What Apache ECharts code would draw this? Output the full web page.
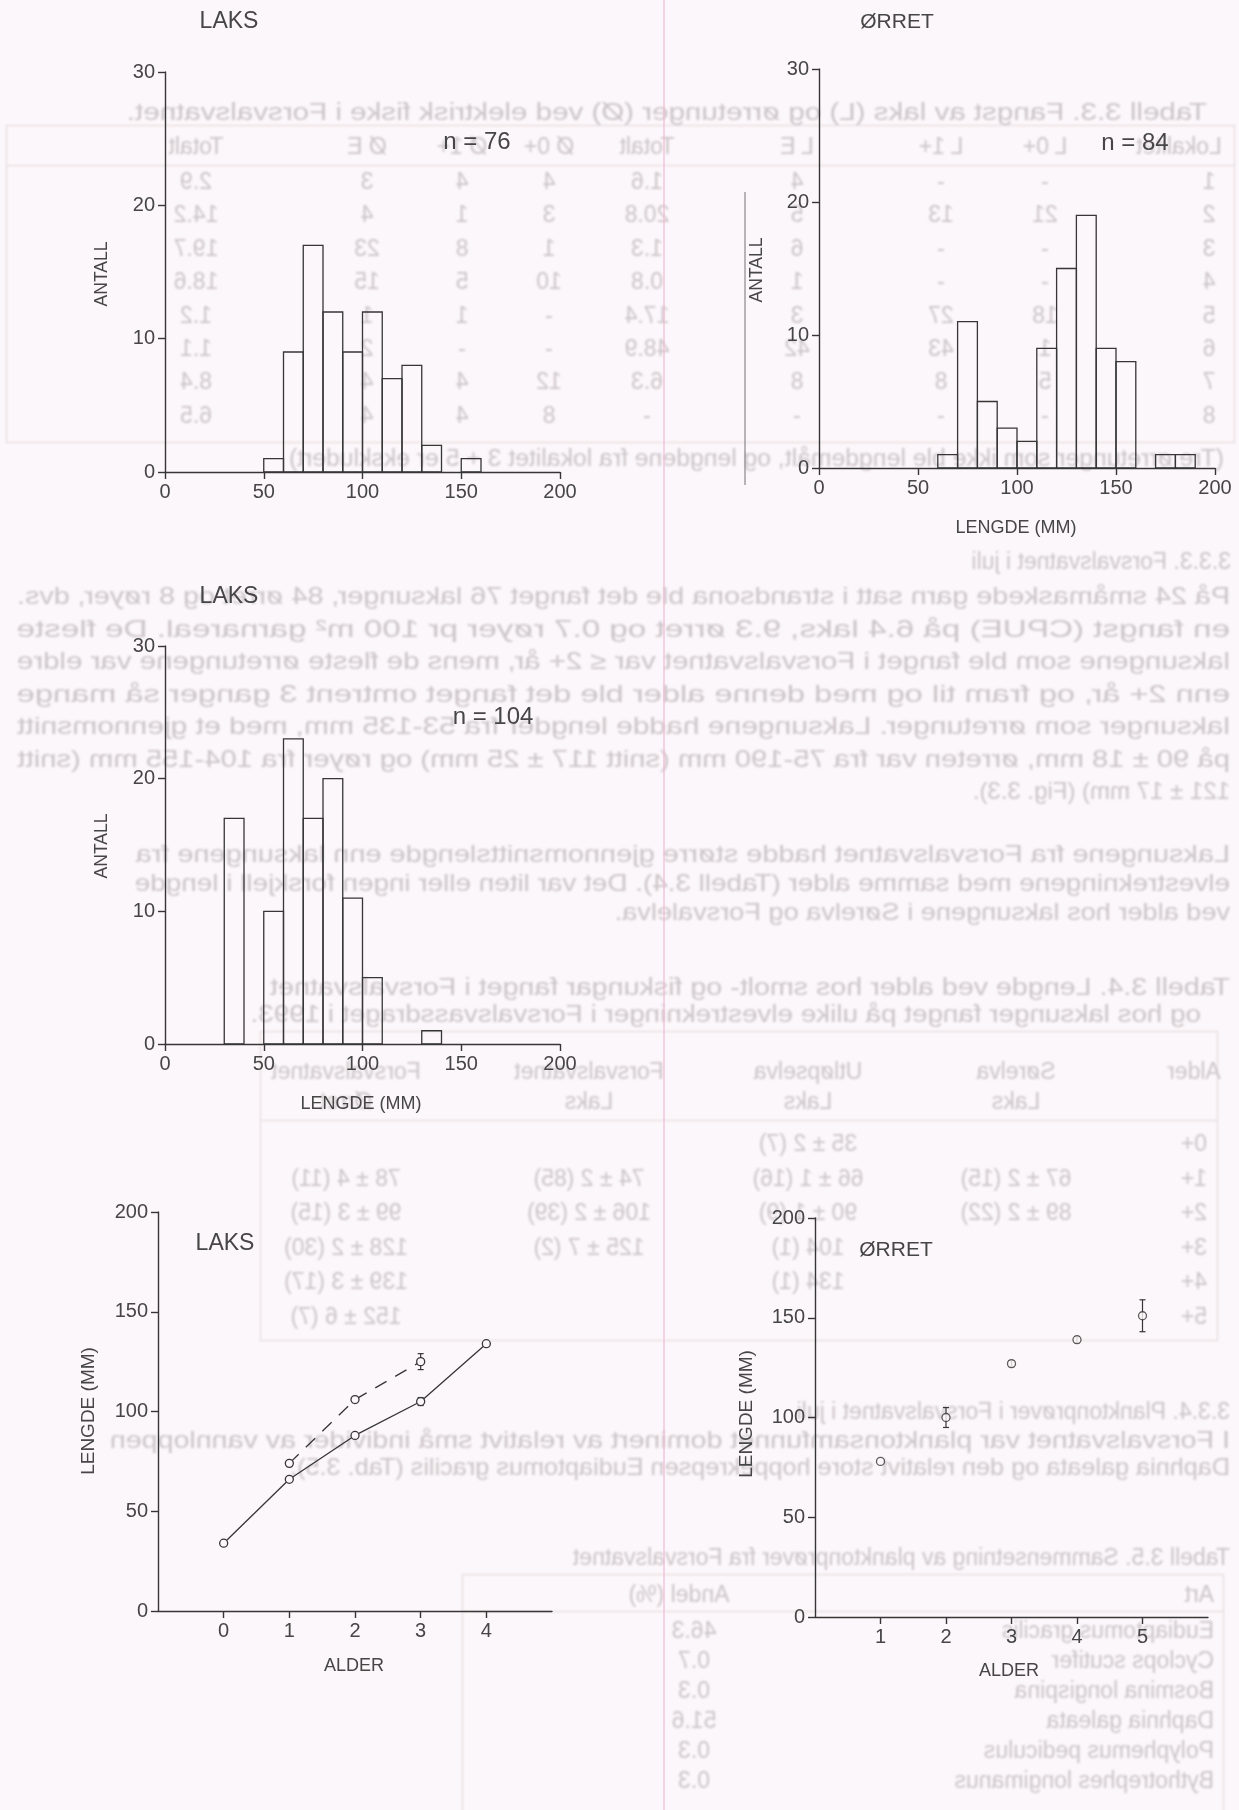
<!DOCTYPE html>
<html>
<head>
<meta charset="utf-8">
<script src="https://cdn.jsdelivr.net/npm/echarts@6/dist/echarts.min.js"></script>
<style>
  html, body { margin: 0; padding: 0; background: #fcf7fa; }
  #page { position: relative; width: 1239px; height: 1810px; overflow: hidden; }
  #ghost { position: absolute; left: 0; top: 0; width: 1239px; height: 1810px;
           transform: scaleX(-1); filter: blur(0.9px); color: #cbc4c8;
           font-family: 'Liberation Sans', Arial, sans-serif; font-size: 23px; }
  #ghost .l { position: absolute; white-space: nowrap; line-height: 26px; height: 26px; transform-origin: 0 50%; }
  #ghost .p { font-size: 24px; }
  #ghost .c { transform: translateX(-50%); }
  #ghost .box { position: absolute; border: 1.5px solid #dfd8dc; box-sizing: border-box; }
  #ghost .hr { position: absolute; height: 0; border-top: 1.5px solid #dfd8dc; }
  #chart { position: absolute; left: 0; top: 0; width: 1239px; height: 1810px; }
</style>
</head>
<body>
<div id="page">
  <div id="ghost"></div>
  <div id="chart"></div>
</div>
<script>
// ---------- data ----------
const binWidth = 10;

// Laks, first sample (n = 76)
const laksABinStart = [50, 60, 70, 80, 90, 100, 110, 120, 130, 150];
const laksACounts   = [1, 9, 17, 12, 9, 12, 7, 8, 2, 1];

// Ørret (n = 84)
const orretBinStart = [60, 70, 80, 90, 100, 110, 120, 130, 140, 150, 170, 180];
const orretCounts   = [1, 11, 5, 3, 2, 9, 15, 19, 9, 8, 1, 1];

// Laks, second sample (n = 104)
const laksBBinStart = [30, 50, 60, 70, 80, 90, 100, 130];
const laksBCounts   = [17, 10, 23, 17, 20, 11, 5, 1];

// Length at age, laks
const laksAges        = [0, 1, 2, 3, 4];
const laksSolidLen    = [34, 66, 88, 105, 134];
const laksSolidErr    = [0, 0, 0, 2, 0];
const laksDashedAges  = [1, 2, 3];
const laksDashedLen   = [74, 106, 125];
const laksDashedErr   = [0, 1.5, 4];

// Length at age, ørret
const orretAges = [1, 2, 3, 4, 5];
const orretLen  = [78, 100, 127, 139, 151];
const orretErr  = [0, 5, 1.5, 1.5, 8];

// Axis ticks
const lengthTicks   = [0, 50, 100, 150, 200];
const countTicks    = [0, 10, 20, 30];
const laksAgeTicks  = [0, 1, 2, 3, 4];
const orretAgeTicks = [1, 2, 3, 4, 5];

// ---------- faint text showing through from the facing page (mirrored) ----------
(function buildGhost() {
  const g = document.getElementById('ghost');
  function line(x, y, text, w, cls) {
    const d = document.createElement('div');
    d.className = 'l' + (cls ? ' ' + cls : '');
    d.style.left = x + 'px';
    d.style.top = (y - 13) + 'px';
    d.textContent = text;
    g.appendChild(d);
    if (w) {
      const nat = d.offsetWidth;
      if (nat > 0) d.style.transform = 'scaleX(' + (w / nat).toFixed(4) + ')';
    }
  }
  function cell(x, y, text) {
    const d = document.createElement('div');
    d.className = 'l c';
    d.style.left = x + 'px';
    d.style.top = (y - 13) + 'px';
    d.textContent = text;
    g.appendChild(d);
  }
  function box(x, y, w, h) {
    const d = document.createElement('div');
    d.className = 'box';
    Object.assign(d.style, { left: x + 'px', top: y + 'px', width: w + 'px', height: h + 'px' });
    g.appendChild(d);
  }
  function hr(x, y, w) {
    const d = document.createElement('div');
    d.className = 'hr';
    Object.assign(d.style, { left: x + 'px', top: y + 'px', width: w + 'px' });
    g.appendChild(d);
  }

  // Tabell 3.3
  line(32, 112, 'Tabell 3.3. Fangst av laks (L) og ørretunger (Ø) ved elektrisk fiske i Forsvalsvatnet.', 1080);
  box(4, 125, 1229, 318);
  hr(4, 165, 1229);
  const cols33 = [60, 194, 298, 442, 592, 690, 777, 872, 1043];
  const head33 = ['Lokalitet', 'L 0+', 'L 1+', 'L E', 'Totalt', 'Ø 0+', 'Ø 1+', 'Ø E', 'Totalt'];
  head33.forEach((t, i) => cell(cols33[i], 146, t));
  const rows33 = [
    ['1', '-', '-', '4', '1.6', '4', '4', '3', '2.9'],
    ['2', '21', '13', '5', '20.8', '3', '1', '4', '14.2'],
    ['3', '-', '-', '6', '1.3', '1', '8', '23', '19.7'],
    ['4', '-', '-', '1', '0.8', '10', '5', '15', '18.6'],
    ['5', '18', '27', '3', '17.4', '-', '1', '1', '1.2'],
    ['6', '1', '43', '42', '48.9', '-', '-', '2', '1.1'],
    ['7', '5', '8', '8', '6.3', '12', '4', '4', '8.4'],
    ['8', '-', '-', '-', '-', '8', '4', '4', '6.5']
  ];
  rows33.forEach((r, k) => r.forEach((t, i) => cell(i === 0 ? 30 : cols33[i], 181 + k * 33.4, t)));
  line(15, 458, '(Tre ørretunger som ikke ble lengdemålt, og lengdene fra lokalitet 3 + 5 er ekskludert)', 935);

  // 3.3.3
  line(8, 561, '3.3.3. Forsvalsvatnet i juli');
  const p1 = [
    'På 24 småmaskede garn satt i strandsona ble det fanget 76 laksunger, 84 ørret og 8 røyer, dvs.',
    'en fangst (CPUE) på 6.4 laks, 9.3 ørret og 0.7 røyer pr 100 m² garnareal. De fleste',
    'laksungene som ble fanget i Forsvalsvatnet var ≤ 2+ år, mens de fleste ørretungene var eldre',
    'enn 2+ år, og fram til og med denne alder ble det fanget omtrent 3 ganger så mange',
    'laksunger som ørretunger. Laksungene hadde lengder fra 53-135 mm, med et gjennomsnitt',
    'på 90 ± 18 mm, ørreten var fra 75-190 mm (snitt 117 ± 25 mm) og røyer fra 104-155 mm (snitt'
  ];
  p1.forEach((t, i) => line(9, 596 + i * 32.5, t, 1213, 'p'));
  line(9, 596 + 6 * 32.5, '121 ± 17 mm) (Fig. 3.3).', 0, 'p');

  const p2 = [
    'Laksungene fra Forsvalsvatnet hadde større gjennomsnittslengde enn laksungene fra',
    'elvestrekningene med samme alder (Tabell 3.4). Det var liten eller ingen forskjell i lengde'
  ];
  p2.forEach((t, i) => line(9, 854 + i * 29, t, 1095, 'p'));
  line(9, 912, 'ved alder hos laksungene i Sørelva og Forsvalelva.', 615, 'p');

  // Tabell 3.4
  line(9, 987, 'Tabell 3.4. Lengde ved alder hos smolt- og fiskungar fanget i Forsvalsvatnet', 960);
  line(38, 1014, 'og hos laksunger fanget på ulike elvestrekninger i Forsvalsvassdraget i 1993.', 950);
  box(21, 1031, 958, 310);
  hr(21, 1120, 958);
  const cols34 = [45, 223, 431, 650, 893];
  ['Alder', 'Sørelva', 'Utløpselva', 'Forsvalsvatnet', 'Forsvalsvatnet'].forEach((t, i) => cell(cols34[i], 1071, t));
  ['', 'Laks', 'Laks', 'Laks', 'Ørret'].forEach((t, i) => { if (t) cell(cols34[i], 1101, t); });
  const rows34 = [
    ['0+', '', '35 ± 2 (7)', '', ''],
    ['1+', '67 ± 2 (15)', '66 ± 1 (16)', '74 ± 2 (85)', '78 ± 4 (11)'],
    ['2+', '89 ± 2 (22)', '90 ± 1 (9)', '106 ± 2 (39)', '99 ± 3 (15)'],
    ['3+', '', '104 (1)', '125 ± 7 (2)', '128 ± 2 (30)'],
    ['4+', '', '134 (1)', '', '139 ± 3 (17)'],
    ['5+', '', '', '', '152 ± 6 (7)']
  ];
  rows34.forEach((r, k) => r.forEach((t, i) => { if (t) cell(cols34[i], 1143 + k * 34.6, t); }));

  // 3.3.4
  line(9, 1411, '3.3.4. Planktonprøver i Forsvalsvatnet i juli');
  line(9, 1440, 'I Forsvalsvatnet var planktonsamfunnet dominert av relativt små individer av vannloppen', 1120, 'p');
  line(9, 1467, 'Daphnia galeata og den relativt store hoppekrepsen Eudiaptomus gracilis (Tab. 3.5).', 940, 'p');

  // Tabell 3.5
  line(9, 1557, 'Tabell 3.5. Sammensetning av planktonprøver fra Forsvalsvatnet');
  box(15, 1574, 762, 260);
  hr(15, 1611, 762);
  line(25, 1594, 'Art');
  cell(560, 1594, 'Andel (%)');
  const rows35 = [
    ['Eudiaptomus gracilis', '46.3'],
    ['Cyclops scutifer', '0.7'],
    ['Bosmina longispina', '0.3'],
    ['Daphnia galeata', '51.6'],
    ['Polyphemus pediculus', '0.3'],
    ['Bythotrephes longimanus', '0.3']
  ];
  rows35.forEach((r, k) => {
    line(25, 1630 + k * 30, r[0]);
    cell(545, 1630 + k * 30, r[1]);
  });
})();

// ---------- charts ----------
const ink = '#363636';
const textInk = '#464646';
const paper = '#fcf7fa';
const fam = "'Liberation Sans', Arial, sans-serif";

const grids = [
  { left: 165, top: 72,   width: 395, height: 400 },   // laks A
  { left: 819, top: 69,   width: 396, height: 399 },   // ørret
  { left: 165, top: 646,  width: 395, height: 398 },   // laks B
  { left: 158, top: 1212, width: 394, height: 399 },   // laks, lengde ved alder
  { left: 815, top: 1218, width: 393, height: 399 }    // ørret, lengde ved alder
];

function axisBase(gridIndex, ticks) {
  return {
    gridIndex,
    type: 'value',
    axisLine: { show: true, onZero: false, lineStyle: { color: ink, width: 1.4 } },
    axisTick: { show: true, inside: false, length: 7, customValues: ticks, lineStyle: { color: ink, width: 1.4 } },
    axisLabel: { color: textInk, fontSize: 20, fontFamily: fam, margin: 10, customValues: ticks },
    splitLine: { show: false }
  };
}

const xAxes = [
  Object.assign(axisBase(0, lengthTicks), { min: 0, max: 200, interval: 50 }),
  Object.assign(axisBase(1, lengthTicks), { min: 0, max: 200, interval: 50 }),
  Object.assign(axisBase(2, lengthTicks), { min: 0, max: 200, interval: 50 }),
  Object.assign(axisBase(3, laksAgeTicks), { min: -1, max: 5, interval: 1 }),
  Object.assign(axisBase(4, orretAgeTicks), { min: 0, max: 6, interval: 1 })
];

const yAxes = [
  Object.assign(axisBase(0, countTicks), { min: 0, max: 30, interval: 10 }),
  Object.assign(axisBase(1, countTicks), { min: 0, max: 30, interval: 10 }),
  Object.assign(axisBase(2, countTicks), { min: 0, max: 30, interval: 10 }),
  Object.assign(axisBase(3, lengthTicks), { min: 0, max: 200, interval: 50 }),
  Object.assign(axisBase(4, lengthTicks), { min: 0, max: 200, interval: 50 })
];

function histogram(axisIndex, starts, counts) {
  return {
    type: 'custom',
    xAxisIndex: axisIndex,
    yAxisIndex: axisIndex,
    data: starts.map((s, i) => [s, s + binWidth, counts[i]]),
    encode: { x: [0, 1], y: 2 },
    renderItem: function (params, api) {
      const top = api.coord([api.value(0), api.value(2)]);
      const base = api.coord([api.value(1), 0]);
      return {
        type: 'rect',
        shape: { x: top[0], y: top[1], width: base[0] - top[0], height: base[1] - top[1] },
        style: { fill: 'none', stroke: ink, lineWidth: 1.3 }
      };
    }
  };
}

function errorBars(axisIndex, xs, ys, errs) {
  return {
    type: 'custom',
    xAxisIndex: axisIndex,
    yAxisIndex: axisIndex,
    z: 1,
    data: xs.map((x, i) => [x, ys[i], errs[i]]),
    encode: { x: 0, y: 1 },
    renderItem: function (params, api) {
      const x = api.value(0), y = api.value(1), e = api.value(2);
      if (!e) return null;
      const hi = api.coord([x, y + e]);
      const lo = api.coord([x, y - e]);
      const cap = 3;
      const st = { stroke: ink, lineWidth: 1.2 };
      return {
        type: 'group',
        children: [
          { type: 'line', shape: { x1: hi[0], y1: hi[1], x2: lo[0], y2: lo[1] }, style: st },
          { type: 'line', shape: { x1: hi[0] - cap, y1: hi[1], x2: hi[0] + cap, y2: hi[1] }, style: st },
          { type: 'line', shape: { x1: lo[0] - cap, y1: lo[1], x2: lo[0] + cap, y2: lo[1] }, style: st }
        ]
      };
    }
  };
}

const markerStyle = { color: paper, borderColor: ink, borderWidth: 1.3 };

function label(text, x, y, size, rotate) {
  return {
    type: 'text',
    x, y,
    rotation: rotate ? Math.PI / 2 : 0,
    z: 10,
    style: { text, fill: textInk, fontSize: size, fontFamily: fam, align: 'center', verticalAlign: 'middle' }
  };
}

const option = {
  backgroundColor: 'transparent',
  animation: false,
  grid: grids,
  xAxis: xAxes,
  yAxis: yAxes,
  series: [
    histogram(0, laksABinStart, laksACounts),
    histogram(1, orretBinStart, orretCounts),
    histogram(2, laksBBinStart, laksBCounts),
    errorBars(3, laksAges, laksSolidLen, laksSolidErr),
    errorBars(3, laksDashedAges, laksDashedLen, laksDashedErr),
    {
      type: 'line', xAxisIndex: 3, yAxisIndex: 3, z: 3,
      data: laksAges.map((a, i) => [a, laksSolidLen[i]]),
      symbol: 'circle', symbolSize: 8,
      itemStyle: markerStyle,
      lineStyle: { color: ink, width: 1.3 }
    },
    {
      type: 'line', xAxisIndex: 3, yAxisIndex: 3, z: 3,
      data: laksDashedAges.map((a, i) => [a, laksDashedLen[i]]),
      symbol: 'circle', symbolSize: 8,
      itemStyle: markerStyle,
      lineStyle: { color: ink, width: 1.3, type: [13, 10] }
    },
    errorBars(4, orretAges, orretLen, orretErr),
    {
      type: 'scatter', xAxisIndex: 4, yAxisIndex: 4, z: 3,
      data: orretAges.map((a, i) => [a, orretLen[i]]),
      symbol: 'circle', symbolSize: 8,
      itemStyle: markerStyle
    }
  ],
  graphic: [
    // fold line of the page and a stray rule beside the ørret histogram
    { type: 'line', z: 0, shape: { x1: 664, y1: 0, x2: 664, y2: 1810 }, style: { stroke: '#f0b9d4', lineWidth: 1.2 } },
    { type: 'line', z: 0, shape: { x1: 745, y1: 192, x2: 745, y2: 485 }, style: { stroke: '#8a8588', lineWidth: 1.2 } },

    label('LAKS', 229, 22, 23),
    label('n = 76', 477, 142, 24),
    label('ANTALL', 102, 274, 17.5, true),

    label('ØRRET', 897, 22, 21),
    label('n = 84', 1135, 143, 24),
    label('ANTALL', 757, 270, 17.5, true),
    label('LENGDE (MM)', 1016, 528, 18),

    label('LAKS', 229, 597, 23),
    label('n = 104', 493, 717, 24),
    label('ANTALL', 102, 846, 17.5, true),
    label('LENGDE (MM)', 361, 1104, 18),

    label('LAKS', 225, 1244, 23),
    label('LENGDE (MM)', 89, 1411, 19, true),
    label('ALDER', 354, 1666, 18),

    label('ØRRET', 896, 1250, 21),
    label('LENGDE (MM)', 747, 1414, 19, true),
    label('ALDER', 1009, 1671, 18)
  ]
};

const chart = echarts.init(document.getElementById('chart'), null, { renderer: 'canvas' });
chart.setOption(option);
</script>
</body>
</html>
